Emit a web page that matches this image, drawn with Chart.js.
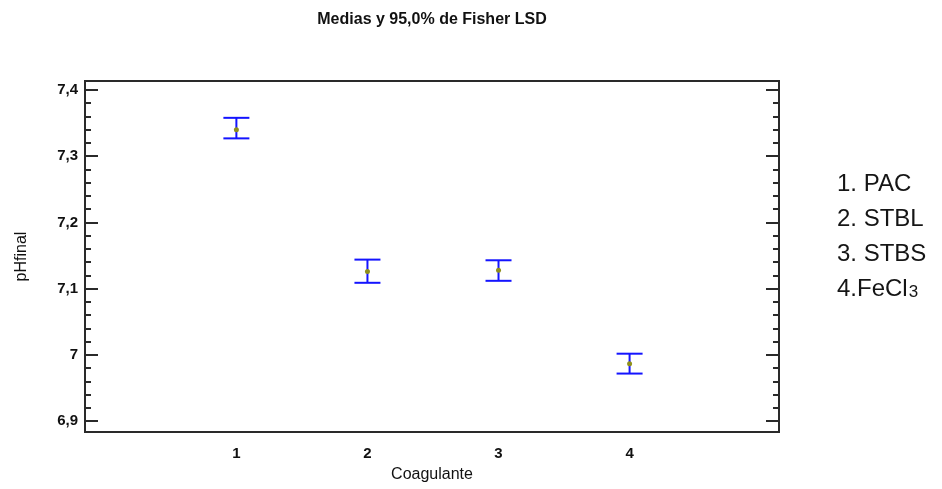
<!DOCTYPE html>
<html>
<head>
<meta charset="utf-8">
<script src="https://cdn.jsdelivr.net/npm/chart.js@4.4.1/dist/chart.umd.min.js"></script>
<style>
  html, body { margin: 0; padding: 0; background: #fff; }
  #wrap { width: 942px; height: 489px; }
</style>
</head>
<body>
<div id="wrap"><canvas id="lsdChart"></canvas></div>
<script>
// medias y limites LSD por coagulante
const groups = [1, 2, 3, 4];
const groupLabels = ['1', '2', '3', '4'];
const means = [7.340, 7.126, 7.128, 6.987];
const lower = [7.327, 7.109, 7.112, 6.972];
const upper = [7.358, 7.144, 7.143, 7.002];
const yTicks = [6.9, 7.0, 7.1, 7.2, 7.3, 7.4];
const yTickLabels = ['6,9', '7', '7,1', '7,2', '7,3', '7,4'];
const legendText = ['1. PAC', '2. STBL', '3. STBS', '4.FeCl'];
const legendSub = ['', '', '', '3'];
const chartTitle = 'Medias y 95,0% de Fisher LSD';

const sans = "'Liberation Sans Narrow', 'Liberation Sans', Arial, sans-serif";
const barBlue = '#1414ff';

// tallos verticales de los intervalos
const stemPlugin = {
    id: 'stems',
    beforeDatasetsDraw(chart) {
        const ctx = chart.ctx;
        const x = chart.scales.x, y = chart.scales.y;
        ctx.save();
        ctx.strokeStyle = barBlue;
        ctx.lineWidth = 2;
        for (let i = 0; i < groups.length; i++) {
            const px = x.getPixelForValue(groups[i]);
            ctx.beginPath();
            ctx.moveTo(px, y.getPixelForValue(lower[i]));
            ctx.lineTo(px, y.getPixelForValue(upper[i]));
            ctx.stroke();
        }
        ctx.restore();
    }
};

// marco y marcas del eje y (hacia dentro, a ambos lados)
const framePlugin = {
    id: 'frame',
    afterDatasetsDraw(chart) {
        const ctx = chart.ctx;
        const a = chart.chartArea;
        const y = chart.scales.y;
        ctx.save();
        ctx.strokeStyle = '#2a2a2a';
        ctx.lineWidth = 2;
        ctx.strokeRect(a.left, a.top, a.right - a.left, a.bottom - a.top);

        ctx.beginPath();
        for (let i = 0; i < yTicks.length; i++) {
            const py = Math.round(y.getPixelForValue(yTicks[i]));
            ctx.moveTo(a.left, py); ctx.lineTo(a.left + 13, py);
            ctx.moveTo(a.right, py); ctx.lineTo(a.right - 13, py);
            if (i < yTicks.length - 1) {
                const step = (yTicks[i + 1] - yTicks[i]) / 5;
                for (let k = 1; k < 5; k++) {
                    const my = Math.round(y.getPixelForValue(yTicks[i] + step * k));
                    ctx.moveTo(a.left, my); ctx.lineTo(a.left + 6, my);
                    ctx.moveTo(a.right, my); ctx.lineTo(a.right - 6, my);
                }
            }
        }
        ctx.stroke();
        ctx.restore();
    }
};

// titulo centrado sobre el area del grafico y leyenda a la derecha
const textPlugin = {
    id: 'sideText',
    afterDraw(chart) {
        const ctx = chart.ctx;
        const a = chart.chartArea;
        ctx.save();
        ctx.fillStyle = '#111';
        ctx.textAlign = 'center';
        ctx.textBaseline = 'middle';
        ctx.font = "bold 16px " + sans;
        ctx.fillText(chartTitle, (a.left + a.right) / 2, 20);

        ctx.fillStyle = '#151515';
        ctx.textAlign = 'left';
        ctx.textBaseline = 'alphabetic';
        for (let i = 0; i < legendText.length; i++) {
            const bx = 837, by = 191 + i * 35;
            ctx.font = "24px 'Liberation Sans', Arial, sans-serif";
            ctx.fillText(legendText[i], bx, by);
            if (legendSub[i]) {
                const w = ctx.measureText(legendText[i]).width;
                ctx.font = "17px 'Liberation Sans', Arial, sans-serif";
                ctx.fillText(legendSub[i], bx + w + 1, by + 1);
            }
        }
        ctx.restore();
    }
};

const ctx = document.getElementById('lsdChart').getContext('2d');

new Chart(ctx, {
    type: 'scatter',
    data: {
        datasets: [
            {
                label: 'Media',
                data: groups.map((g, i) => ({ x: g, y: means[i] })),
                pointRadius: 2.5,
                pointBackgroundColor: '#8f8f1c',
                pointBorderWidth: 0
            },
            {
                label: 'Limite superior',
                data: groups.map((g, i) => ({ x: g, y: upper[i] })),
                pointStyle: 'line',
                pointRadius: 13,
                pointBorderColor: barBlue,
                pointBorderWidth: 2
            },
            {
                label: 'Limite inferior',
                data: groups.map((g, i) => ({ x: g, y: lower[i] })),
                pointStyle: 'line',
                pointRadius: 13,
                pointBorderColor: barBlue,
                pointBorderWidth: 2
            }
        ]
    },
    options: {
        responsive: true,
        maintainAspectRatio: false,
        animation: false,
        events: [],
        layout: { padding: { left: 0, right: 163, top: 81, bottom: 0 } },
        plugins: {
            legend: { display: false },
            tooltip: { enabled: false },
            title: { display: false }
        },
        scales: {
            x: {
                type: 'linear',
                min: -0.155,
                max: 5.14,
                afterBuildTicks: s => { s.ticks = groups.map(v => ({ value: v })); },
                afterFit: s => { s.height = 57; },
                grid: { display: false, drawTicks: false },
                border: { display: false },
                ticks: {
                    autoSkip: false,
                    maxRotation: 0,
                    padding: 13,
                    color: '#111',
                    font: { family: sans, size: 15, weight: 'bold' },
                    callback: v => groupLabels[groups.indexOf(v)]
                },
                title: {
                    display: true,
                    text: 'Coagulante',
                    color: '#111',
                    font: { family: sans, size: 16 },
                    padding: { top: 0, bottom: 5 }
                }
            },
            y: {
                min: 6.8838,
                max: 7.4136,
                afterBuildTicks: s => { s.ticks = yTicks.map(v => ({ value: v })); },
                afterFit: s => { s.width = 85; },
                grid: { display: false, drawTicks: false },
                border: { display: false },
                ticks: {
                    padding: 7,
                    color: '#111',
                    font: { family: sans, size: 15, weight: 'bold' },
                    callback: (v, i) => yTickLabels[i]
                },
                title: {
                    display: true,
                    text: 'pHfinal',
                    color: '#111',
                    font: { family: sans, size: 16 },
                    padding: { top: 12, bottom: 0 }
                }
            }
        }
    },
    plugins: [stemPlugin, framePlugin, textPlugin]
});
</script>
</body>
</html>
